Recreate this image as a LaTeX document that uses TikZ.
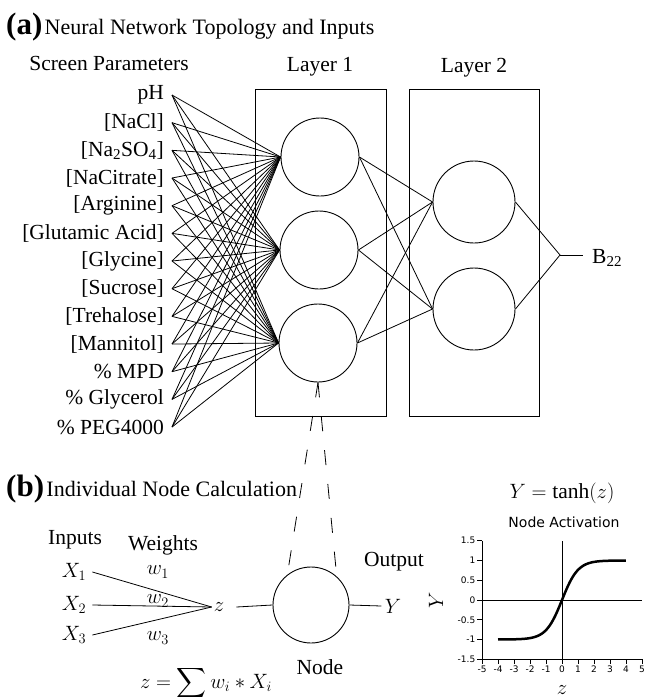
\documentclass[tikz,border=0pt]{standalone}
\usepackage{amsmath}
\usepackage{fontspec}
\setmainfont{Liberation Serif}
\newfontfamily\plotfont{DejaVu Sans}
\usetikzlibrary{positioning}

\begin{document}
\begin{tikzpicture}[x=1pt, y=-1pt,
    every node/.style={font=\fontsize{21.5}{25}\selectfont},
    neuron/.style={circle, draw, line width=0.9pt, minimum size=78pt, inner sep=0pt},
    layerbox/.style={draw, line width=0.9pt, inner sep=0pt},
    wire/.style={line width=0.8pt},
    zoomline/.style={wire, dash pattern=on 15pt off 19pt},
    tag/.style={font=\bfseries\fontsize{31}{33}\selectfont, inner sep=0pt, anchor=base west},
    header/.style={font=\fontsize{22}{26}\selectfont, inner sep=0pt},
    param/.style={anchor=east, inner sep=0pt},
    tick/.style={font=\plotfont\fontsize{9}{10}\selectfont, inner sep=1.5pt}
]
\useasboundingbox (0,0) rectangle (646,697);

% Panel titles
\node[tag] (ta) at (6,34) {(a)};
\node[header, right=2pt of ta.base east, anchor=base west] (tta) {Neural Network Topology and Inputs};
\node[tag] (tb) at (6,496) {(b)};
\node[header, right=2pt of tb.base east, anchor=base west] (ttb) {Individual Node Calculation};

% Column labels
\node (screen) at (109,63) {Screen Parameters};
\node (lay1) at (320,67) {Layer 1};
\node (lay2) at (474,68) {Layer 2};

% Layer boxes
\node[layerbox, minimum width=131pt, minimum height=327pt] (box1) at (320.5,252.5) {};
\node[layerbox, minimum width=130pt, minimum height=327pt] (box2) at (474,252.5) {};

% Input parameters
\foreach \lab [count=\i] in {pH, {[NaCl]}, {[Na\textsubscript{2}SO\textsubscript{4}]}, {[NaCitrate]},
    {[Arginine]}, {[Glutamic Acid]}, {[Glycine]}, {[Sucrose]}, {[Trehalose]},
    {[Mannitol]}, {\% MPD}, {\% Glycerol}, {\% PEG4000}} {
    \node[param] (in\i) at (164, {95+27.67*(\i-1)}) {\lab};
}

% Layer 1
\node[neuron] (h1) at (320,157) {};
\node[neuron] (h2) at (319,250) {};
\node[neuron] (h3) at (318,343) {};

% Layer 2
\node[neuron, minimum size=82pt] (o1) at (474,202) {};
\node[neuron, minimum size=82pt] (o2) at (474,309) {};

% Connections: inputs to layer 1
\foreach \i in {1,...,13} {
    \foreach \j in {1,2,3} {
        \draw[wire] ([xshift=8pt]in\i.east) -- (h\j.west);
    }
}

% Connections: layer 1 to layer 2
\foreach \i in {1,2,3} {
    \foreach \j in {1,2} {
        \draw[wire] (h\i.east) -- (o\j.west);
    }
}

% Output
\coordinate (join) at (560,255);
\coordinate (bend) at (583,255);
\node[inner sep=0pt, anchor=base west] (b22) at (592,263) {B\textsubscript{22}};
\draw[wire] (o1.east) -- (join) -- (o2.east);
\draw[wire] (join) -- (bend);

% Single node
\node[neuron, minimum size=76pt] (calc) at (311,605) {};
\draw[zoomline] (h3.south) -- (calc.128);
\draw[zoomline] (h3.south) -- (calc.48);

\node (inputs) at (75,540) {Inputs};
\node (weights) at (163,545) {Weights};
\node[inner xsep=6pt] (x1) at (74,572) {$X_1$};
\node[inner xsep=6pt] (x2) at (74,605) {$X_2$};
\node[inner xsep=6pt] (x3) at (74,635) {$X_3$};
\node[inner xsep=2pt] (z) at (219,607) {$z$};
\foreach \k in {1,2,3} {
    \draw[wire] (x\k.east) -- (z.west);
}
\node (w1) at (158,572) {$w_1$};
\node (w2) at (158,601) {$w_2$};
\node (w3) at (158,638) {$w_3$};
\node (yout) at (393,606) {$Y$};
\draw[wire] ([xshift=10pt]z.east) -- (calc.west);
\draw[wire] (calc.east) -- (yout.west);
\node (output) at (394,562) {Output};
\node (nodelab) at (320,667) {Node};
\node (sum) at (206,683) {$z=\displaystyle\sum w_i * X_i$};

% Activation plot
\node (tanh) at (562,493) {$Y=\tanh(z)$};
\node[font=\plotfont\fontsize{14}{16}\selectfont] (act) at (564,522) {Node Activation};
\begin{scope}[shift={(562pt,-600pt)}, x=16pt, y=39.5pt]
    \draw[wire] (-5,1.5) -- (-5,-1.5) -- (5,-1.5);
    \draw[wire] (-5,0) -- (5,0);
    \draw[wire] (0,-1.5) -- (0,1.5);
    \foreach \t in {-5,...,5} {
        \draw[wire] (\t,-1.5) -- ++(0,-0.13) node[below, tick] {\t};
    }
    \foreach \v in {1.5,1,0.5,0,-0.5,-1,-1.5} {
        \draw[wire] (-5,\v) -- ++(-0.3,0) node[left, tick] {\v};
    }
    \draw[line width=2.5pt, domain=-4:4, samples=80, smooth] plot (\x, {tanh(\x)});
\end{scope}
\node[rotate=90] (ylab) at (436,600) {$Y$};
\node (zlab) at (562,690) {$z$};

\end{tikzpicture}
\end{document}
